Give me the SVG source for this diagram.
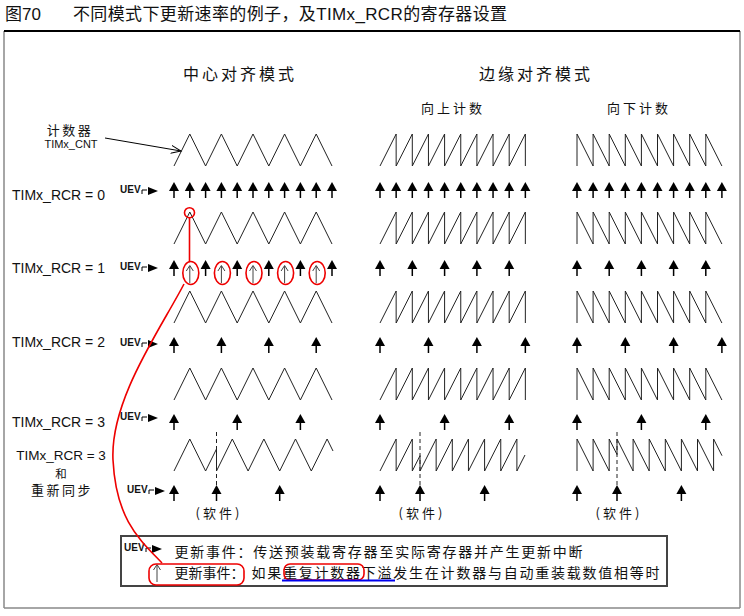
<svg xmlns="http://www.w3.org/2000/svg" width="744" height="616" viewBox="0 0 744 616">
<style>
text{font-family:"Liberation Sans","Noto Sans CJK SC",sans-serif;fill:#111}
.cjk{font-family:"Noto Sans CJK SC","Liberation Sans",sans-serif}
.wave{fill:none;stroke:#222;stroke-width:1}
.uev{font-weight:bold;font-size:10px}
.lbl{font-size:14px}
.red{fill:none;stroke:#e00;stroke-width:1.6}
.dash{stroke:#222;stroke-width:1;stroke-dasharray:4,3}
</style>
<defs>
<g id="ua"><polygon points="0,0 -5,9 5,9" fill="#000"/><line x1="0" y1="8" x2="0" y2="16" stroke="#000" stroke-width="1.5"/></g>
<path id="oa" d="M0,1 V18 M-3.5,6 L0,0.5 L3.5,6" fill="none" stroke="#444" stroke-width="1"/>
<g id="uevsym"><text class="uev" x="0" y="0">UEV</text><path d="M22,1 V-3 H27" fill="none" stroke="#000" stroke-width="1"/><polygon points="28,-6 38,-2 28,2" fill="#000"/></g>
<path id="wc" d="M174,32 L189.8,0 L205.6,32 L221.4,0 L237.2,32 L253,0 L268.8,32 L284.6,0 L300.4,32 L316.2,0 L332,32"/>
<path id="wu" d="M380,32 L396.15,0 V32 L412.3,0 V32 L428.45,0 V32 L444.6,0 V32 L460.75,0 V32 L476.9,0 V32 L493.05,0 V32 L509.2,0 V32 L525.35,0 V32"/>
<path id="wd" d="M577,32 V0 L593.1,32 V0 L609.2,32 V0 L625.3,32 V0 L641.4,32 V0 L657.5,32 V0 L673.6,32 V0 L689.7,32 V0 L705.8,32 V0 L721.9,32"/>
<marker id="openarr" markerUnits="userSpaceOnUse" markerWidth="12" markerHeight="10" refX="10" refY="4" orient="auto" viewBox="0 0 12 8"><path d="M0,0 L10,4 L0,8" fill="none" stroke="#000" stroke-width="1"/></marker>
</defs>

<!-- title -->
<g id="title">
<text x="5" y="20" style="font-size:17px">图70</text>
<text x="73" y="20" textLength="434" lengthAdjust="spacing" style="font-size:17px">不同模式下更新速率的例子，及TIMx_RCR的寄存器设置</text>
</g>

<!-- frame -->
<g id="frame">
<line x1="4" y1="31" x2="4" y2="608" stroke="#888" stroke-width="1.5"/>
<line x1="740" y1="31" x2="740" y2="608" stroke="#888" stroke-width="1.5"/>
<line x1="4" y1="31" x2="740" y2="31" stroke="#000" stroke-width="2"/>
<line x1="4" y1="608" x2="740" y2="608" stroke="#888" stroke-width="1.5"/>
</g>

<!-- headers -->
<g id="headers">
<text class="cjk" x="240" y="80" text-anchor="middle" style="font-size:16px;letter-spacing:3px">中心对齐模式</text>
<text class="cjk" x="536" y="80" text-anchor="middle" style="font-size:16px;letter-spacing:3px">边缘对齐模式</text>
<text class="cjk" x="453" y="113" text-anchor="middle" style="font-size:13px;letter-spacing:3px">向上计数</text>
<text class="cjk" x="639" y="113" text-anchor="middle" style="font-size:13px;letter-spacing:3px">向下计数</text>
</g>

<!-- counter label -->
<g id="counter-label">
<text class="cjk" x="70" y="135" text-anchor="middle" style="font-size:13px;letter-spacing:2.5px">计数器</text>
<text x="71" y="148" text-anchor="middle" style="font-size:11px">TIMx_CNT</text>
</g>

<!-- row labels -->
<g id="row-labels">
<text class="lbl" x="12" y="200">TIMx_RCR = 0</text>
<text class="lbl" x="12" y="273">TIMx_RCR = 1</text>
<text class="lbl" x="12" y="347">TIMx_RCR = 2</text>
<text class="lbl" x="12" y="427">TIMx_RCR = 3</text>
<text x="61" y="460" text-anchor="middle" style="font-size:13.5px">TIMx_RCR = 3</text>
<text class="cjk" x="61" y="478" text-anchor="middle" style="font-size:11.5px">和</text>
<text class="cjk" x="62" y="495" text-anchor="middle" style="font-size:13px;letter-spacing:2.5px">重新同步</text>
</g>

<!-- row 0 -->
<g id="row0">
<use href="#wc" class="wave" transform="translate(0,134)"/>
<use href="#wu" class="wave" transform="translate(0,134)"/>
<use href="#wd" class="wave" transform="translate(0,134)"/>
<use href="#uevsym" x="120" y="193"/>
<use href="#ua" x="174" y="182"/><use href="#ua" x="189.8" y="182"/><use href="#ua" x="205.6" y="182"/><use href="#ua" x="221.4" y="182"/><use href="#ua" x="237.2" y="182"/><use href="#ua" x="253" y="182"/><use href="#ua" x="268.8" y="182"/><use href="#ua" x="284.6" y="182"/><use href="#ua" x="300.4" y="182"/><use href="#ua" x="316.2" y="182"/><use href="#ua" x="332" y="182"/>
<use href="#ua" x="380" y="182"/><use href="#ua" x="396.15" y="182"/><use href="#ua" x="412.3" y="182"/><use href="#ua" x="428.45" y="182"/><use href="#ua" x="444.6" y="182"/><use href="#ua" x="460.75" y="182"/><use href="#ua" x="476.9" y="182"/><use href="#ua" x="493.05" y="182"/><use href="#ua" x="509.2" y="182"/><use href="#ua" x="525.35" y="182"/>
<use href="#ua" x="577" y="182"/><use href="#ua" x="593.1" y="182"/><use href="#ua" x="609.2" y="182"/><use href="#ua" x="625.3" y="182"/><use href="#ua" x="641.4" y="182"/><use href="#ua" x="657.5" y="182"/><use href="#ua" x="673.6" y="182"/><use href="#ua" x="689.7" y="182"/><use href="#ua" x="705.8" y="182"/><use href="#ua" x="721.9" y="182"/>
</g>

<!-- row 1 -->
<g id="row1">
<use href="#wc" class="wave" transform="translate(0,212)"/>
<use href="#wu" class="wave" transform="translate(0,212)"/>
<use href="#wd" class="wave" transform="translate(0,212)"/>
<use href="#uevsym" x="120" y="270"/>
<use href="#ua" x="174" y="260"/><use href="#ua" x="205.6" y="260"/><use href="#ua" x="237.2" y="260"/><use href="#ua" x="268.8" y="260"/><use href="#ua" x="300.4" y="260"/><use href="#ua" x="332" y="260"/>
<use href="#oa" x="189.8" y="265"/><use href="#oa" x="221.4" y="265"/><use href="#oa" x="253" y="265"/><use href="#oa" x="284.6" y="265"/><use href="#oa" x="316.2" y="265"/>
<use href="#ua" x="380" y="260"/><use href="#ua" x="412.3" y="260"/><use href="#ua" x="444.6" y="260"/><use href="#ua" x="476.9" y="260"/><use href="#ua" x="509.2" y="260"/>
<use href="#ua" x="577" y="260"/><use href="#ua" x="609.2" y="260"/><use href="#ua" x="641.4" y="260"/><use href="#ua" x="673.6" y="260"/><use href="#ua" x="705.8" y="260"/>
</g>

<!-- row 2 -->
<g id="row2">
<use href="#wc" class="wave" transform="translate(0,291)"/>
<use href="#wu" class="wave" transform="translate(0,291)"/>
<use href="#wd" class="wave" transform="translate(0,291)"/>
<use href="#uevsym" x="120" y="346"/>
<use href="#ua" x="174" y="337"/><use href="#ua" x="221.4" y="337"/><use href="#ua" x="268.8" y="337"/><use href="#ua" x="316.2" y="337"/>
<use href="#ua" x="380" y="337"/><use href="#ua" x="428.45" y="337"/><use href="#ua" x="476.9" y="337"/><use href="#ua" x="525.35" y="337"/>
<use href="#ua" x="577" y="337"/><use href="#ua" x="625.3" y="337"/><use href="#ua" x="673.6" y="337"/><use href="#ua" x="721.9" y="337"/>
</g>

<!-- row 3 -->
<g id="row3">
<use href="#wc" class="wave" transform="translate(0,368)"/>
<use href="#wu" class="wave" transform="translate(0,368)"/>
<use href="#wd" class="wave" transform="translate(0,368)"/>
<use href="#uevsym" x="120" y="420"/>
<use href="#ua" x="174" y="414"/><use href="#ua" x="237.2" y="414"/><use href="#ua" x="300.4" y="414"/>
<use href="#ua" x="380" y="414"/><use href="#ua" x="444.6" y="414"/><use href="#ua" x="509.2" y="414"/>
<use href="#ua" x="577" y="414"/><use href="#ua" x="641.4" y="414"/><use href="#ua" x="705.8" y="414"/>
</g>

<!-- row 4: resync -->
<g id="row4">
<g transform="translate(0,439)" class="wave">
<path d="M174,32 L189.8,0 L205.6,32 L216.5,10 V32 L232.3,0 L248.1,32 L263.9,0 L279.7,32 L295.5,0 L311.3,32 L327.1,0 L333,12"/>
<path d="M380,32 L396.15,0 V32 L412.3,0 V32 L420,16.7 V32 L436.15,0 V32 L452.3,0 V32 L468.45,0 V32 L484.6,0 V32 L500.75,0 V32 L516.9,0 V32 L525,16"/>
<path d="M577,32 V0 L593.1,32 V0 L609.2,32 V0 L617,15.5 V0 L633.1,32 V0 L649.2,32 V0 L665.3,32 V0 L681.4,32 V0 L697.5,32 V0 L713.6,32 V0 L722,16.7"/>
</g>
<line class="dash" x1="216.5" y1="432" x2="216.5" y2="487"/>
<line class="dash" x1="420" y1="432" x2="420" y2="487"/>
<line class="dash" x1="617" y1="432" x2="617" y2="487"/>
<use href="#uevsym" x="127" y="493"/>
<use href="#ua" x="174" y="485"/><use href="#ua" x="216.5" y="485"/><use href="#ua" x="279.7" y="485"/>
<use href="#ua" x="380" y="485"/><use href="#ua" x="420" y="485"/><use href="#ua" x="484.6" y="485"/>
<use href="#ua" x="577" y="485"/><use href="#ua" x="617" y="485"/><use href="#ua" x="681.4" y="485"/>
<text class="cjk" x="219" y="518" text-anchor="middle" style="font-size:13px;letter-spacing:3px">(软件)</text>
<text class="cjk" x="422" y="518" text-anchor="middle" style="font-size:13px;letter-spacing:3px">(软件)</text>
<text class="cjk" x="619" y="518" text-anchor="middle" style="font-size:13px;letter-spacing:3px">(软件)</text>
</g>

<!-- legend -->
<g id="legend">
<rect x="121" y="536" width="546" height="50" fill="#fff" stroke="#444" stroke-width="2"/>
<use href="#uevsym" x="124" y="551"/>
<text class="cjk" x="174.5" y="557" textLength="408" lengthAdjust="spacing" style="font-size:14px">更新事件：传送预装载寄存器至实际寄存器并产生更新中断</text>
<use href="#oa" x="157" y="564"/>
<text class="cjk" x="174.5" y="578" style="font-size:14px">更新事件：</text>
<text class="cjk" x="251.5" y="578" textLength="408" lengthAdjust="spacing" style="font-size:14px">如果重复计数器下溢发生在计数器与自动重装载数值相等时</text>
<rect class="red" x="149" y="564" width="95" height="21" rx="7"/>
<rect class="red" x="284" y="564" width="80" height="16" rx="6"/>
<line x1="282" y1="580.5" x2="395" y2="580.5" stroke="#00e" stroke-width="2"/>
</g>

<!-- connectors / annotations -->
<g id="connectors">
<line x1="105" y1="138" x2="181" y2="151" stroke="#000" stroke-width="1" marker-end="url(#openarr)"/>
<circle class="red" cx="189.5" cy="212.7" r="5" stroke-width="1"/>
<line x1="189.5" y1="217.7" x2="189.5" y2="262" stroke="#e00" stroke-width="1.6"/>
<ellipse class="red" cx="190.8" cy="273" rx="8" ry="11.5"/>
<ellipse class="red" cx="222.4" cy="273" rx="8" ry="11.5"/>
<ellipse class="red" cx="254" cy="273" rx="8" ry="11.5"/>
<ellipse class="red" cx="285.6" cy="273" rx="8" ry="11.5"/>
<ellipse class="red" cx="317.2" cy="273" rx="8" ry="11.5"/>
<path class="red" d="M184,284 C160,330 110,400 113,460 S140,540 162,563"/>
</g>
</svg>
